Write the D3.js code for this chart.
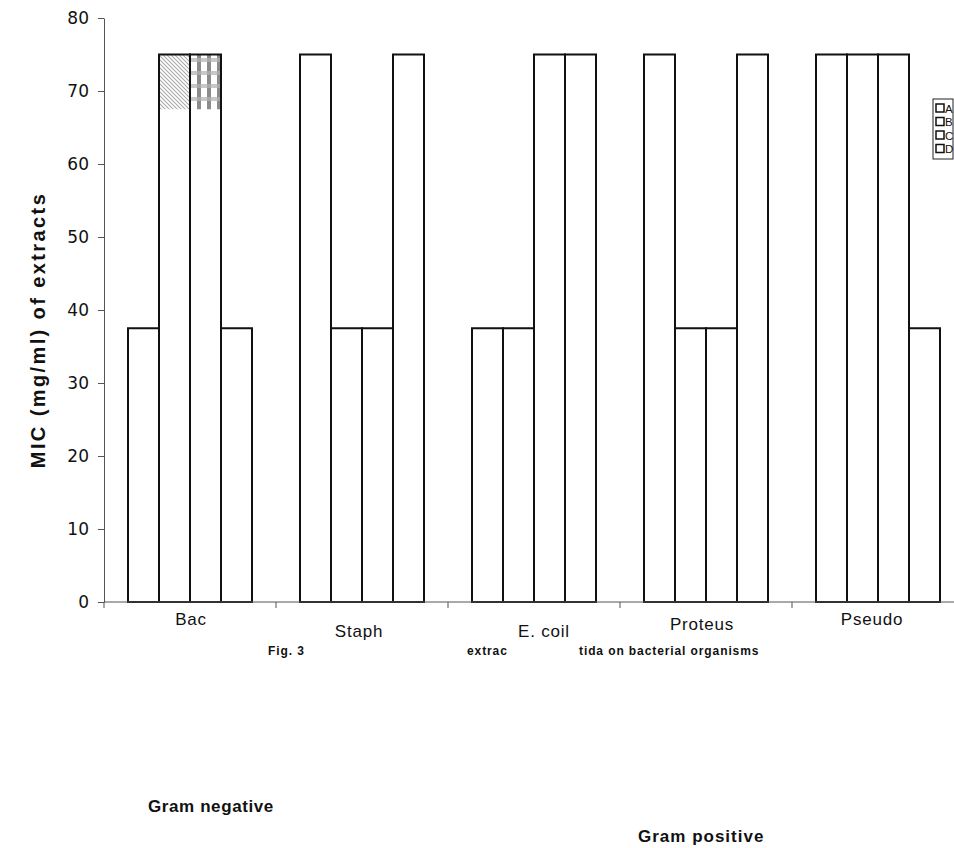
<!DOCTYPE html>
<html>
<head>
<meta charset="utf-8">
<script src="https://cdn.jsdelivr.net/npm/d3@7"></script>
<style>
  body { margin: 0; background: #fff; }
  svg { display: block; }
</style>
</head>
<body>
<svg id="chart"></svg>
<script>
var organisms = ["Bac", "Staph", "E. coil", "Proteus", "Pseudo"];
var extracts = ["A", "B", "C", "D"];
// white part of each bar
var valuesA = [37.5, 75, 37.5, 75, 75];
var valuesB = [67.5, 37.5, 37.5, 37.5, 75];
var valuesC = [67.5, 37.5, 75, 37.5, 75];
var valuesD = [37.5, 75, 75, 75, 37.5];
// patterned caps on top (Bac B and C only)
var capB = [7.5, 0, 0, 0, 0];
var capC = [7.5, 0, 0, 0, 0];
var yTicks = [0, 10, 20, 30, 40, 50, 60, 70, 80];

var width = 954, height = 848;
var margin = {top: 18, left: 104, right: -10, bottom: 246};

var svg = d3.select("#chart").attr("width", width).attr("height", height);

var defs = svg.append("defs");
// diagonal hatch
var hatch = defs.append("pattern").attr("id", "hatch")
    .attr("patternUnits", "userSpaceOnUse").attr("width", 4).attr("height", 4);
hatch.append("rect").attr("width", 4).attr("height", 4).attr("fill", "#fff");
hatch.append("path").attr("d", "M0,0 L4,4 M-1,3 L1,5 M3,-1 L5,1")
    .attr("stroke", "#aaa").attr("stroke-width", 1.1);
// checker
var check = defs.append("pattern").attr("id", "check")
    .attr("patternUnits", "userSpaceOnUse").attr("width", 10).attr("height", 13)
    .attr("x", 192).attr("y", 58);
check.append("rect").attr("width", 10).attr("height", 13).attr("fill", "#fff");
check.append("rect").attr("x", 0).attr("y", 0).attr("width", 10).attr("height", 4).attr("fill", "#c8c8c8");
check.append("rect").attr("x", 5).attr("y", 4).attr("width", 4).attr("height", 9).attr("fill", "#8c8c8c");
check.append("rect").attr("x", 5).attr("y", 0).attr("width", 4).attr("height", 4).attr("fill", "#a8a8a8");

var x = d3.scaleBand()
    .domain(organisms)
    .range([margin.left, width - margin.right])
    .padding(0);

var xs = d3.scaleBand()
    .domain(extracts)
    .range([24, x.bandwidth() - 24]);

var y = d3.scaleLinear()
    .domain([0, 80])
    .range([height - margin.bottom, margin.top]);

var axisColor = "#555";

// y axis
var yAxis = svg.append("g")
    .attr("transform", `translate(${margin.left},0)`)
    .call(d3.axisLeft(y).tickValues(yTicks).tickSize(6).tickSizeOuter(0).tickPadding(9));
yAxis.select(".domain").attr("stroke", axisColor);
yAxis.selectAll(".tick line").attr("stroke", axisColor);
yAxis.selectAll(".tick text")
    .attr("font-family", "DejaVu Sans, sans-serif")
    .attr("font-size", 17)
    .attr("fill", "#111");

// bars
var series = [
    {key: "A", base: valuesA, cap: null},
    {key: "B", base: valuesB, cap: capB, fill: "url(#hatch)"},
    {key: "C", base: valuesC, cap: capC, fill: "url(#check)"},
    {key: "D", base: valuesD, cap: null}
];

var bars = svg.append("g");
series.forEach(function(s){
    organisms.forEach(function(o, i){
        var x0 = x(o) + xs(s.key);
        bars.append("rect")
            .attr("x", x0)
            .attr("y", y(s.base[i]))
            .attr("width", xs.bandwidth())
            .attr("height", y(0) - y(s.base[i]))
            .attr("fill", "#fff");
        if(s.cap && s.cap[i] > 0){
            bars.append("rect")
                .attr("x", x0)
                .attr("y", y(s.base[i] + s.cap[i]))
                .attr("width", xs.bandwidth())
                .attr("height", y(s.base[i]) - y(s.base[i] + s.cap[i]))
                .attr("fill", s.fill);
        }
    });
});
// outlines drawn on top
series.forEach(function(s){
    organisms.forEach(function(o, i){
        var total = s.base[i] + (s.cap ? s.cap[i] : 0);
        bars.append("rect")
            .attr("x", x(o) + xs(s.key))
            .attr("y", y(total))
            .attr("width", xs.bandwidth())
            .attr("height", y(0) - y(total))
            .attr("fill", "none")
            .attr("stroke", "#111")
            .attr("stroke-width", 2);
    });
});

// x axis: baseline with ticks on category boundaries
var xAxis = svg.append("g");
xAxis.append("line")
    .attr("x1", margin.left).attr("x2", width)
    .attr("y1", y(0)).attr("y2", y(0))
    .attr("stroke", axisColor);
organisms.forEach(function(o){
    xAxis.append("line")
        .attr("x1", x(o)).attr("x2", x(o))
        .attr("y1", y(0)).attr("y2", y(0) + 6)
        .attr("stroke", axisColor);
});

// caption fragments (partly hidden in the original)
var caption = [
    {t: "Fig. 3", x: 268},
    {t: "extrac", x: 467},
    {t: "tida on  bacterial organisms", x: 579}
];
svg.append("g").selectAll("text").data(caption).join("text")
    .attr("x", d => d.x)
    .attr("y", 655)
    .attr("font-family", "Liberation Sans Narrow, Arial Narrow, Liberation Sans, sans-serif")
    .attr("font-weight", "bold")
    .attr("font-size", 12)
    .attr("letter-spacing", 0.9)
    .attr("fill", "#111")
    .text(d => d.t);

// category labels
var labelY = [625, 637, 637, 630, 625];
var labelDx = [1, -3, 10, -4, -6];
svg.append("g").selectAll("text").data(organisms).join("text")
    .attr("x", (d, i) => x(d) + x.bandwidth() / 2 + labelDx[i])
    .attr("y", (d, i) => labelY[i])
    .attr("text-anchor", "middle")
    .attr("font-family", "Liberation Sans, Arial, sans-serif")
    .attr("font-size", 17)
    .attr("letter-spacing", 0.8)
    .attr("fill", "#111")
    .text(d => d);

// y title
svg.append("text")
    .attr("transform", `translate(45,${(y(0) + y(80)) / 2 + 20}) rotate(-90)`)
    .attr("text-anchor", "middle")
    .attr("font-family", "Liberation Sans, Arial, sans-serif")
    .attr("font-weight", "bold")
    .attr("font-size", 20)
    .attr("letter-spacing", 2.4)
    .attr("fill", "#111")
    .text("MIC (mg/ml) of extracts");

// gram labels
svg.append("text")
    .attr("x", 148).attr("y", 812)
    .attr("font-family", "Liberation Sans, Arial, sans-serif")
    .attr("font-weight", "bold").attr("font-size", 17).attr("letter-spacing", 0.6).attr("fill", "#111")
    .text("Gram negative");
svg.append("text")
    .attr("x", 638).attr("y", 842)
    .attr("font-family", "Liberation Sans, Arial, sans-serif")
    .attr("font-weight", "bold").attr("font-size", 17).attr("letter-spacing", 1).attr("fill", "#111")
    .text("Gram positive");

// legend
var legend = svg.append("g").attr("transform", "translate(933,99)");
legend.append("rect")
    .attr("width", 20).attr("height", 60)
    .attr("fill", "#fff").attr("stroke", "#222").attr("stroke-width", 1);
var items = legend.selectAll("g.item").data(extracts).join("g")
    .attr("transform", (d, i) => `translate(3,${5 + i * 13.5})`);
items.append("rect")
    .attr("width", 8).attr("height", 8)
    .attr("fill", "#fff").attr("stroke", "#111").attr("stroke-width", 1.5);
items.append("text")
    .attr("x", 9).attr("y", 8.5)
    .attr("font-family", "Liberation Sans, Arial, sans-serif")
    .attr("font-size", 11.5).attr("fill", "#111")
    .text(d => d);
</script>
</body>
</html>
